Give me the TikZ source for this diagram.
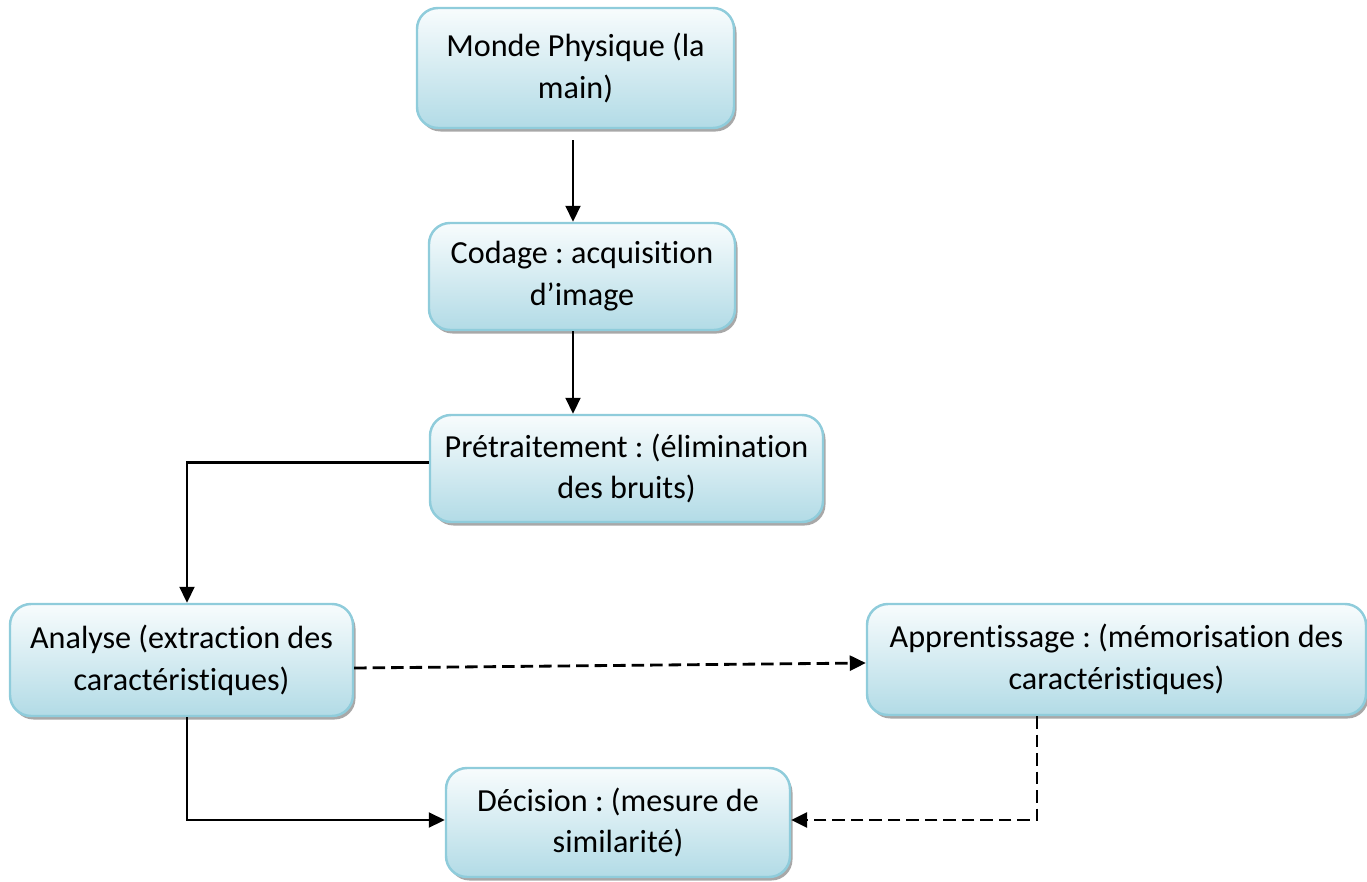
\documentclass[tikz,border=0pt]{standalone}
\usepackage{fontspec}
\setmainfont{Carlito}[Ligatures=NoCommon]
\frenchspacing
\usepackage{tikz}
\usetikzlibrary{arrows.meta, shadows}

\definecolor{boxline}{RGB}{143,204,219}
\definecolor{boxtop}{RGB}{248,252,253}
\definecolor{boxbottom}{RGB}{178,219,230}

\begin{document}
\begin{tikzpicture}[
      block/.style={rectangle, rounded corners=0.42cm, draw=boxline, line width=1.4pt,
        top color=boxtop, bottom color=boxbottom, align=center,
        font=\fontsize{18.3}{23.8}\selectfont,
        drop shadow={shadow xshift=0.05cm, shadow yshift=-0.07cm, fill=gray!75, opacity=0.9}},
      arrow/.style={-{Triangle[length=0.32cm, width=0.30cm]}, line width=1.15pt},
      darrow/.style={arrow, line width=1.6pt, dash pattern=on 0.25cm off 0.12cm}
  ]
      \useasboundingbox (0,0) rectangle (27.34,-17.64);

      % Main chain
      \node[block, minimum width=6.34cm, minimum height=2.40cm] (M) at (11.51,-1.36) {Monde Physique (la\\main)};
      \node[block, minimum width=6.12cm, minimum height=2.14cm] (C) at (11.64,-5.53) {Codage : acquisition\\d’image};
      \node[block, minimum width=7.86cm, minimum height=2.14cm] (P) at (12.53,-9.37) {Prétraitement : (élimination\\des bruits)};

      % Analysis and learning
      \node[block, minimum width=6.86cm, minimum height=2.24cm] (A) at (3.63,-13.20) {Analyse (extraction des\\caractéristiques)};
      \node[block, minimum width=9.98cm, minimum height=2.22cm] (AP) at (22.33,-13.19) {Apprentissage : (mémorisation des\\caractéristiques)};

      % Decision
      \node[block, minimum width=6.88cm, minimum height=2.18cm] (D) at (12.36,-16.45) {Décision : (mesure de\\similarité)};

      % Arrows
      \draw[arrow, shorten <=0.22cm] ([xshift=-0.05cm]M.south) -- ([xshift=-0.05cm]M.south |- C.north);
      \draw[arrow] ([xshift=-0.18cm]C.south) -- ([xshift=-0.18cm]C.south |- P.north);
      \draw[arrow] ([yshift=0.12cm]P.west) -| ([xshift=0.11cm]A.north);
      \draw[darrow] ([yshift=-0.16cm]A.east) -- ([yshift=-0.07cm]AP.west);
      \draw[arrow] ([xshift=0.11cm]A.south) |- ([yshift=0.05cm]D.west);
      \draw[darrow] ([xshift=-1.59cm]AP.south) |- ([yshift=0.05cm]D.east);
  \end{tikzpicture}
\end{document}
